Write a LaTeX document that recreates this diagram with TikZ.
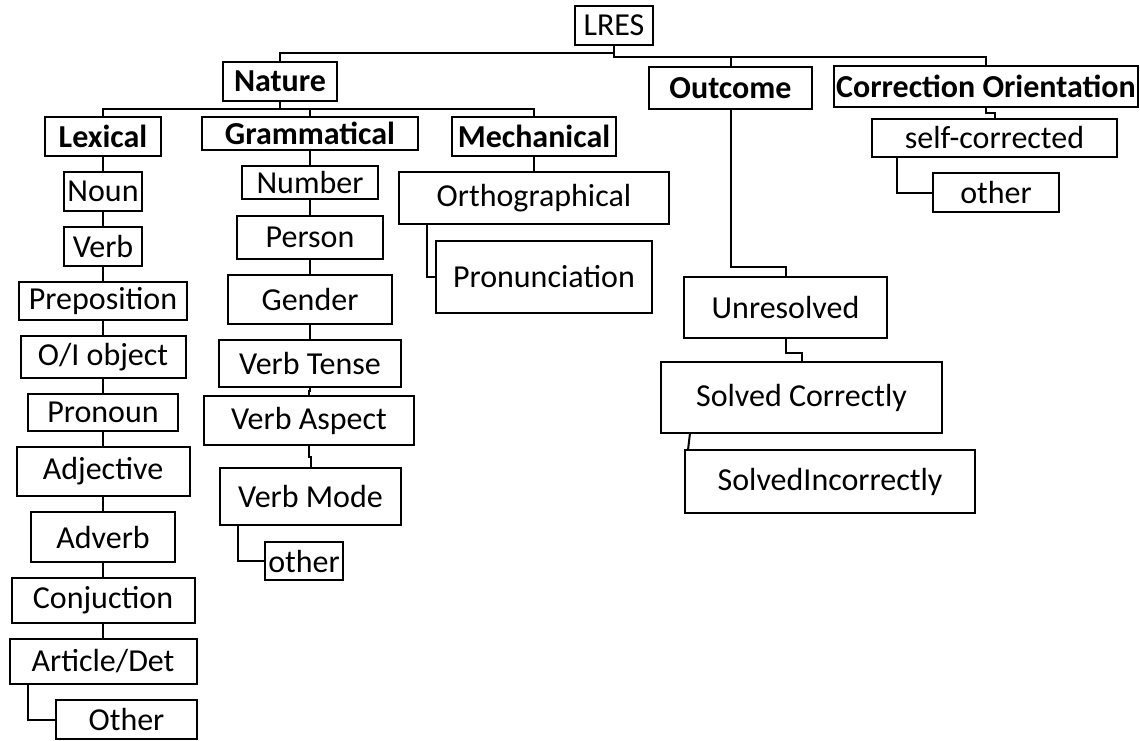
\documentclass[tikz,border=0pt]{standalone}
\usepackage{fontspec}
\setmainfont{Carlito}
\usetikzlibrary{positioning,calc}
\tikzset{
    lrBox/.style={
        rectangle,
        draw,
        line width=1pt,
        inner sep=0pt,
        outer sep=0pt,
        align=center,
        font=\fontsize{16}{19}\selectfont
    },
    % Category heads
    lrHead/.style={lrBox, font=\fontsize{16}{19}\selectfont\bfseries},
    % Box size in picture units
    lrSize/.style 2 args={minimum width=#1*0.5pt, minimum height=#2*0.5pt},
    % Connectors
    lrLink/.style={line width=1pt, draw=black}
}

\begin{document}
\begin{tikzpicture}[x=0.5pt, y=-0.5pt]
\useasboundingbox (0,0) rectangle (1140,740);

% Root and first level
\node[lrBox, lrSize={78}{39}] (lres) at (614,25.5) {LRES};
\node[lrHead, lrSize={114}{39}] (nature) at (280,81.5) {Nature};
\node[lrHead, lrSize={163}{42}] (outcome) at (730.5,88) {Outcome};
\node[lrHead, lrSize={304}{41}] (corr) at (986,86.5) {Correction Orientation};

% Nature branches
\node[lrHead, lrSize={116}{39}] (lexical) at (103,136.5) {Lexical};
\node[lrHead, lrSize={216}{33}] (gramm) at (310,133.5) {Grammatical};
\node[lrHead, lrSize={164}{39}] (mech) at (534,136.5) {Mechanical};

% Lexical
\node[lrBox, lrSize={78}{39}] (noun) at (103,191.5) {Noun};
\node[lrBox, lrSize={78}{39}] (verb) at (103,246.5) {Verb};
\node[lrBox, lrSize={168}{38}] (prep) at (103,301) {Preposition};
\node[lrBox, lrSize={165}{42}] (oiobj) at (103,357) {O/I object};
\node[lrBox, lrSize={150}{37}] (pronoun) at (103,412.5) {Pronoun};
\node[lrBox, lrSize={173}{49}] (adj) at (103,471.5) {Adjective};
\node[lrBox, lrSize={144}{50}] (adv) at (103,537) {Adverb};
\node[lrBox, lrSize={183}{45}] (conj) at (103,600.5) {Conjuction};
\node[lrBox, lrSize={187}{45}] (artdet) at (103,661.5) {Article/Det};
\node[lrBox, lrSize={141}{39}] (lexother) at (126.5,719.5) {Other};

% Grammatical
\node[lrBox, lrSize={136}{33}] (number) at (310,182.5) {Number};
\node[lrBox, lrSize={146}{43}] (person) at (310,237.5) {Person};
\node[lrBox, lrSize={164}{49}] (gender) at (310,299.5) {Gender};
\node[lrBox, lrSize={182}{47}] (tense) at (310,363.5) {Verb Tense};
\node[lrBox, lrSize={210}{49}] (aspect) at (309,420.5) {Verb Aspect};
\node[lrBox, lrSize={181}{57}] (mode) at (310.5,496.5) {Verb Mode};
\node[lrBox, lrSize={78}{38}] (gramother) at (304,561) {other};

% Mechanical
\node[lrBox, lrSize={270}{52}] (ortho) at (534,198) {Orthographical};
\node[lrBox, lrSize={216}{72}] (pron) at (544,277) {Pronunciation};

% Outcome
\node[lrBox, lrSize={203}{61}] (unres) at (785.5,307.5) {Unresolved};
\node[lrBox, lrSize={281}{71}] (solvc) at (801.5,397.5) {Solved Correctly};
\node[lrBox, lrSize={290}{63}] (solvi) at (830,481.5) {SolvedIncorrectly};

% Correction orientation
\node[lrBox, lrSize={245}{38}] (selfc) at (994.5,138) {self-corrected};
\node[lrBox, lrSize={126}{39}] (coother) at (996,192.5) {other};

% Tree links
\draw[lrLink] (lres.south) -- ++(0,8) -| (nature.north);
\draw[lrLink] (lres.south) -- ++(0,12) -| (outcome.north);
\draw[lrLink] (lres.south) -- ++(0,12) -| (corr.north);
\foreach \kid in {lexical,gramm,mech}
    \draw[lrLink] (nature.south) -- ++(0,8) -| (\kid.north);
\foreach \a/\b in {lexical/noun,noun/verb,verb/prep,prep/oiobj,oiobj/pronoun,pronoun/adj,adj/adv,adv/conj,conj/artdet,
    gramm/number,number/person,person/gender,gender/tense,mech/ortho}
    \draw[lrLink] (\a.south) -- (\b.north);
\draw[lrLink] (tense.south) -- ++(0,4) -| (aspect.north);
\draw[lrLink] (aspect.south) -- ++(0,12) -| (mode.north);
\draw[lrLink] ($(artdet.south west)+(18,0)$) |- (lexother.west);
\draw[lrLink] ($(mode.south west)+(18,0)$) |- (gramother.west);
\draw[lrLink] ($(ortho.south west)+(28,0)$) |- (pron.west);
\draw[lrLink] (outcome.south) -- ++(0,158) -| (unres.north);
\draw[lrLink] (unres.south) -- ++(0,15) -| (solvc.north);
\draw[lrLink] ($(solvc.south west)+(29,0)$) -- ($(solvi.north west)+(3,0)$);
\draw[lrLink] (corr.south) -- ++(0,6) -| (selfc.north);
\draw[lrLink] ($(selfc.south west)+(25,0)$) |- (coother.west);
\end{tikzpicture}
\end{document}
